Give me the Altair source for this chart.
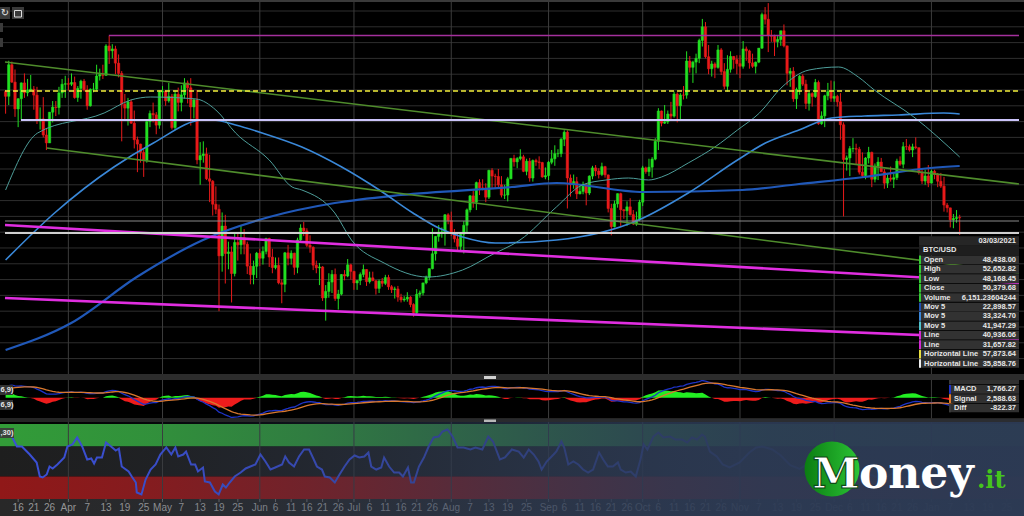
import altair as alt
import pandas as pd

W, H = 1024, 516
START = pd.Timestamp("2021-03-12")

# ---------------- BTC/USD daily candles, 12 Mar 2021 - 10 Jan 2022 ----------------
first_open = 57800

close_mar = [57200, 61200, 59000, 55600, 56900, 58900, 57650, 58000, 58100, 57350,
             54100, 54340, 52300, 51300, 55190, 55830, 55780, 57630, 58730, 58800]
high_mar = [58000, 61700, 61600, 60600, 56950, 58950, 60100, 59400, 59900, 58500,
            58400, 55800, 57100, 53200, 55200, 56600, 56600, 58400, 59400, 59800]
low_mar = [55000, 56100, 58900, 54600, 53300, 54200, 57000, 57200, 57900, 55500,
           53700, 53000, 52000, 50400, 51300, 53900, 54700, 54900, 57000, 57000]

close_apr = [58730, 58950, 57050, 58200, 59120, 58020, 56000, 58100, 58100, 59770,
             59960, 59850, 63580, 62960, 63200, 61400, 60100, 56200, 55700, 56500,
             53800, 51700, 51150, 50100, 49100, 54000, 55030, 54850, 53550, 57750]
high_apr = [59500, 60100, 59700, 58500, 59300, 59400, 58600, 58200, 58900, 61200,
            60700, 61200, 63800, 64850, 63800, 63600, 62500, 60400, 57500, 57000,
            56800, 55400, 52100, 51200, 50500, 54300, 55400, 56400, 55200, 57950]
low_apr = [57900, 58500, 56900, 56500, 56900, 57800, 55500, 55900, 57700, 57900,
           59200, 59400, 59800, 61300, 62000, 60000, 59600, 51500, 54200, 53500,
           53700, 50600, 47600, 48800, 47000, 48800, 53300, 53900, 52400, 53100]

close_may = [57830, 56630, 57200, 53240, 57470, 56430, 57380, 58900, 58280, 55860,
             56750, 49150, 49700, 49900, 46760, 46450, 43540, 42900, 37000, 40780,
             37300, 37500, 34770, 38700, 38400, 39300, 38470, 35700, 34620, 35680, 37340]
high_may = [58500, 57900, 58900, 57500, 57900, 58300, 58600, 59500, 59200, 59500,
            56900, 58000, 51400, 51500, 50700, 49800, 46600, 45800, 43500, 42500,
            42200, 38800, 38200, 39900, 39800, 40800, 40400, 38800, 37300, 36400, 37500]
low_may = [57000, 56000, 56400, 53000, 52900, 55300, 55300, 56900, 56300, 53500,
           54400, 48600, 46000, 48800, 46600, 43800, 42100, 42300, 30000, 35000,
           33500, 35300, 31100, 34400, 36400, 37200, 37200, 34700, 33400, 33400, 34200]

close_jun = [36700, 37570, 39200, 36850, 35520, 35800, 33590, 33400, 37390, 36690,
             37340, 35550, 39020, 40530, 40160, 38340, 38100, 35820, 35480, 35600,
             31680, 32500, 33680, 34660, 31600, 32160, 34640, 34450, 35870, 35040]
high_jun = [37900, 38200, 39300, 39300, 37900, 36800, 36800, 34000, 37500, 38400,
            37700, 37400, 39300, 41000, 41300, 40500, 39600, 38200, 36400, 36100,
            35700, 33300, 34800, 35200, 35400, 32700, 34700, 35200, 36600, 36000]
low_jun = [35700, 35900, 37200, 35600, 34800, 35300, 33400, 31000, 32400, 35800,
           35900, 34600, 34800, 38800, 39500, 38100, 37400, 35200, 34800, 33300,
           31300, 28800, 31700, 32300, 31300, 30200, 32000, 33900, 34300, 34000]

close_jul = [33570, 33890, 34650, 35280, 33740, 34220, 33860, 32880, 33810, 33520,
             34260, 33090, 32730, 32820, 31780, 31420, 31530, 31780, 30840, 29800,
             32140, 32310, 33580, 34290, 35380, 37270, 39460, 40020, 40020, 42200, 41460]
high_jul = [35100, 33900, 34900, 35900, 35300, 35000, 35000, 33900, 34000, 34200,
            34600, 34600, 33300, 33100, 33200, 32200, 31900, 32400, 31900, 31000,
            32800, 32600, 33600, 34500, 35400, 40500, 39500, 40900, 40600, 42300, 42400]
low_jul = [32700, 32700, 33300, 34300, 33200, 33500, 33800, 32100, 32300, 33100,
           33300, 32700, 32300, 31600, 31200, 31100, 31200, 31200, 30500, 29300,
           29500, 31700, 32000, 33400, 33900, 35300, 36400, 38800, 39300, 38300, 41000]

close_aug = [39850, 39150, 38200, 39740, 40870, 42830, 44600, 43800, 46280, 45600,
             45590, 44430, 47830, 47100, 47050, 45990, 44690, 44700, 46760, 49340,
             48900, 49320, 49540, 47700, 48990, 46850, 49070, 48900, 48810, 46990, 47160]
high_aug = [42600, 40400, 39800, 39900, 41400, 43000, 44700, 45300, 46400, 46700,
            46700, 46200, 47900, 48100, 47400, 48000, 47100, 46000, 47000, 49400,
            49800, 49500, 50500, 49800, 49300, 49400, 49200, 49300, 49600, 48900, 48200]
low_aug = [39500, 38700, 37600, 37500, 37300, 39900, 42500, 43100, 42800, 44700,
           45300, 43800, 44200, 45600, 45500, 45700, 44400, 44200, 43900, 46700,
           48300, 48100, 49100, 47600, 47200, 46400, 46400, 48400, 48000, 46900, 46700]

close_sep = [48850, 49290, 49940, 49940, 51770, 52660, 46860, 46070, 46400, 44850,
             45160, 46050, 44960, 47100, 48140, 47750, 47300, 48300, 47250, 43000,
             40700, 43580, 44880, 42840, 42710, 43210, 42230, 41040, 41560, 43800]
high_sep = [49000, 50400, 51000, 50500, 51900, 52900, 52900, 47300, 47300, 47000,
            45900, 46400, 46200, 47200, 48400, 48500, 48100, 48800, 48400, 47300,
            43600, 44000, 44900, 45000, 42900, 43900, 44300, 42800, 42600, 44100]
low_sep = [46600, 48600, 48400, 49500, 49500, 50900, 43000, 44500, 45500, 44200,
           44800, 44800, 43400, 44700, 46700, 47100, 46800, 47100, 46900, 42500,
           39600, 40600, 43100, 40800, 41700, 40800, 42100, 40900, 40800, 41400]

close_oct = [48140, 47660, 48230, 49250, 51500, 55340, 53800, 53970, 54960, 54690,
             57490, 56000, 57370, 57350, 61670, 60870, 61530, 62010, 64280, 66000,
             62210, 60690, 61300, 60860, 63080, 60330, 58470, 60620, 62250, 61860, 61340]
high_oct = [48400, 48300, 49300, 49500, 51900, 55700, 55400, 56100, 55400, 56500,
            57800, 57700, 57600, 58500, 62900, 62300, 61700, 62600, 64500, 67000,
            66600, 63700, 61700, 61500, 63700, 63300, 61400, 62400, 62900, 62300, 62400]
low_oct = [43300, 47400, 47100, 46900, 49100, 50400, 53400, 53700, 53700, 54100,
           54500, 53900, 54300, 56800, 56900, 60200, 58900, 60100, 61400, 63500,
           62000, 60000, 59700, 59500, 60700, 59900, 58100, 57800, 60200, 60700, 60000]

close_nov = [61000, 63200, 62950, 61440, 61000, 61530, 63300, 67550, 66950, 64880,
             64800, 64130, 64390, 65500, 63590, 60110, 60370, 56890, 58070, 59750,
             58740, 56300, 57550, 57170, 58960, 53730, 54720, 57270, 57800, 56950]
high_nov = [62400, 64200, 63500, 63100, 62600, 61600, 63300, 67800, 68500, 69000,
            65600, 65000, 64900, 65500, 66300, 63600, 60800, 60900, 58300, 59900,
            60000, 59300, 57800, 57700, 59400, 59200, 55300, 57400, 58900, 59200]
low_nov = [59500, 60700, 61700, 60700, 60800, 60100, 61400, 63200, 66300, 62800,
           64100, 62300, 63400, 63600, 63400, 58600, 58400, 56500, 55600, 57400,
           58500, 55600, 55400, 55900, 57000, 53600, 53600, 53300, 56700, 56500]

close_dec = [57200, 56500, 53600, 49200, 49400, 50580, 50600, 50500, 47600, 47150,
             49390, 50100, 46700, 48380, 48880, 47640, 46200, 46850, 46700, 46900,
             49000, 48600, 50830, 50820, 50400, 50800, 50700, 47540, 46470, 47120, 46210]
high_dec = [59100, 57400, 57600, 53900, 49700, 50900, 51900, 51200, 50800, 50100,
            49500, 50800, 50200, 48700, 49500, 49400, 48000, 47300, 48300, 47500,
            49300, 49600, 51400, 51800, 51100, 51200, 52000, 50700, 48100, 47900, 48500]
low_dec = [56500, 55900, 51700, 42000, 47800, 47100, 50100, 48600, 47300, 46900,
           46700, 48700, 45700, 46300, 46600, 47600, 45500, 45600, 46400, 45600,
           46600, 48400, 48100, 50400, 50200, 49500, 50500, 47300, 46100, 46000, 45700]

close_jan = [47700, 47300, 46450, 45830, 43430, 43080, 41560, 41730, 41860, 41820]
high_jan = [47900, 47900, 47500, 47500, 47000, 43700, 43100, 42300, 42800, 42200]
low_jan = [46200, 46700, 45700, 45600, 42600, 42500, 40600, 40500, 41200, 39650]

# closes from 10 Jan to 11 Mar 2021, only used to seed the MACD averages
warmup_closes = [38150, 35400, 33900, 37300, 39100, 36800, 36000, 35800, 36600, 35900,
                 35500, 30800, 33000, 32100, 32300, 32300, 32500, 30400, 33400, 34300,
                 34300, 33100,
                 33500, 35500, 37600, 36900, 38300, 39200, 38900, 46400, 46500, 44800,
                 47900, 47400, 47200, 48600, 47900, 49100, 52100, 51600, 55900, 55900,
                 57400, 54100, 48900, 49700, 47000, 46300, 46200, 45200,
                 49600, 48438, 50380, 48400, 48800, 48900, 51000, 52400, 54900, 55900, 57800]

closes = (close_mar + close_apr + close_may + close_jun + close_jul + close_aug +
          close_sep + close_oct + close_nov + close_dec + close_jan)
highs = (high_mar + high_apr + high_may + high_jun + high_jul + high_aug +
         high_sep + high_oct + high_nov + high_dec + high_jan)
lows = (low_mar + low_apr + low_may + low_jun + low_jul + low_aug +
        low_sep + low_oct + low_nov + low_dec + low_jan)

# moving averages read at sample days (day 0 = 12 Mar 2021)
ma50_pts = [(0, 45340), (10.2, 52556), (31.4, 55088), (39.9, 56734), (46.2, 57114),
            (60.7, 56861), (67, 55468), (73.3, 52556), (84, 49138), (91.3, 45720),
            (94.4, 45340), (104.9, 42428), (110.2, 39010), (120.6, 36098), (134.5, 34326),
            (145.6, 35212), (156, 37364), (161.3, 38377), (163.9, 39010), (175.5, 43188),
            (183.7, 45973), (191.3, 46606), (198.5, 46859), (204.9, 46606), (209, 46986),
            (217.5, 48758), (226, 50784), (233.2, 52936), (240.2, 55088), (247.4, 58380),
            (256, 60532), (265.4, 60912), (271.7, 59646), (276.8, 58000), (289.4, 54582),
            (304, 49518)]
ma100_pts = [(0, 36478), (15.6, 42428), (34.5, 48252), (47.1, 51290), (62.9, 54202),
             (66, 54202), (73.3, 53569), (81.8, 52556), (94.4, 50784), (107.1, 48252),
             (119.1, 45340), (129.8, 42428), (138, 40530), (145.6, 39390), (156, 38630),
             (175.5, 39010), (201.7, 41542), (217.5, 44960), (233.2, 49138), (242.1, 51290),
             (252.8, 52936), (263.2, 54455), (273.6, 54708), (284.4, 54835), (298.9, 55088),
             (304, 54962)]
ma200_pts = [(0, 25084), (20.9, 28502), (41.8, 34326), (62.9, 39010), (84, 41922),
             (104.9, 43694), (126, 44707), (161.3, 45720), (175.5, 46226), (203.3, 45087),
             (234.8, 45340), (252.8, 46100), (273.6, 46986), (294.8, 48125), (304, 48378)]

# RSI read at sample days
rsi_pts = [(0, 88.7), (2.0, 83.3), (3.6, 70), (5.2, 70), (7.7, 59.3), (9.9, 48.7), (10.9, 30),
           (11.8, 28.7), (13.1, 32.7), (14.0, 43.3), (15.0, 40.7), (16.5, 46), (18.7, 55.3),
           (19.7, 70), (21.3, 72.7), (22.8, 82), (24.4, 70), (26.0, 52.7), (27.3, 54),
           (28.2, 47.3), (29.1, 55.3), (30.7, 55.3), (32.0, 75.3), (33.6, 70), (35.1, 64.7),
           (36.1, 67.3), (37.0, 43.3), (39.2, 36.7), (40.2, 30), (41.5, 22), (41.8, 8.7),
           (43.3, 6), (44.6, 26), (46.2, 39.3), (47.8, 46), (49.3, 59.3), (51.2, 68.7),
           (52.8, 59.3), (54.1, 68.7), (55.0, 56.7), (56.6, 59.3), (57.5, 63.3), (59.1, 46),
           (60.4, 46), (61.3, 36.7), (62.9, 42), (63.5, 23.3), (65.1, 22), (66.7, 10),
           (67.9, 6), (69.2, 19.3), (70.2, 15.3), (71.4, 22), (73.0, 30), (74.9, 35.3),
           (76.5, 40.7), (78.0, 43.3), (79.6, 46), (81.2, 59.3), (82.8, 50), (84.4, 39.3),
           (85.9, 42), (88.1, 46), (89.1, 56.7), (90.3, 48.7), (91.9, 43.3), (93.5, 56.7),
           (95.1, 66), (96.7, 66), (98.2, 52.7), (99.2, 43.3), (100.8, 39.3), (101.7, 30),
           (103.3, 28.7), (104.9, 22), (106.4, 32.7), (108.0, 43.3), (109.6, 52.7),
           (111.2, 58), (112.7, 55.3), (114.3, 56.7), (115.6, 62), (116.5, 43.3),
           (118.1, 39.3), (119.7, 42), (120.6, 55.3), (122.2, 43.3), (123.8, 35.3),
           (125.4, 35.3), (126.6, 30), (128.2, 42), (129.2, 22), (130.1, 22), (131.7, 43.3),
           (133.3, 55.3), (134.8, 70), (136.4, 82), (138.0, 83.3), (139.2, 90), (140.8, 92.7),
           (142.4, 83.3), (144.0, 68.7), (145.9, 68.7), (148.1, 66), (149.7, 68.7),
           (151.9, 66), (153.8, 83.3), (155.3, 76.7), (157.5, 52.7), (159.1, 55.3),
           (161.3, 66), (163.5, 63.3), (165.1, 55.3), (166.7, 66), (168.3, 59.3),
           (169.8, 50), (170.8, 39.3), (172.4, 50), (174.6, 59.3), (175.5, 63.3),
           (177.1, 76.7), (178.0, 68.7), (179.3, 46), (180.9, 50), (182.5, 46),
           (184.0, 39.3), (185.6, 35.3), (187.2, 39.3), (189.1, 62), (190.4, 52.7),
           (191.9, 43.3), (193.5, 43.3), (195.1, 48.7), (196.0, 39.3), (197.6, 35.3),
           (199.2, 36.7), (200.8, 30), (202.3, 52.7), (203.3, 72.7), (204.5, 66),
           (206.4, 83.3), (208.0, 88.7), (209.6, 82), (211.8, 83.3), (213.4, 79.3),
           (215.6, 79.3), (217.2, 75.3), (218.7, 82), (220.3, 79.3), (221.9, 86),
           (222.8, 83.3), (224.4, 63.3), (226.6, 56.7), (228.5, 46), (230.7, 42),
           (233.9, 48.7), (237.0, 62), (239.2, 68.7), (241.1, 70), (244.3, 66),
           (247, 58), (250, 45), (253, 40), (256, 48), (259, 30), (262, 38), (266, 35),
           (268, 18), (271, 28), (274, 35), (277, 30), (280, 28), (283, 35), (286, 42),
           (289, 45), (292, 40), (295, 42), (298, 38), (301, 28), (304, 25)]

# drawn trend lines: (day0, price0, day1, price1)
channel_top = (-0.19, 61545, 322.9, 46100)
channel_bottom = (13.1, 50657, 322.9, 34832)
wedge_top = (-0.19, 40909, 322.9, 33566)
wedge_bottom = (-0.19, 31667, 322.9, 26477)
level_high = (32.9, 64900, 322.9, 64900)
level_yellow = (-0.19, 57873.64, 322.9, 57873.64)
level_lilac = (4.9, 54202, 322.9, 54202)
level_grey = (-0.19, 41415, 322.9, 41415)
level_white = (-0.19, 39896, 322.9, 39896)

grid_prices = list(range(24000, 70000, 2000))
month_starts = ["2021-04-01", "2021-05-01", "2021-06-01", "2021-07-01", "2021-08-01",
                "2021-09-01", "2021-10-01", "2021-11-01", "2021-12-01", "2022-01-01"]
tick_dates = ["2021-03-16", "2021-03-21", "2021-03-26", "2021-04-01", "2021-04-07", "2021-04-13",
              "2021-04-19", "2021-04-25", "2021-05-01", "2021-05-07", "2021-05-13", "2021-05-19",
              "2021-05-25", "2021-06-01", "2021-06-06", "2021-06-11", "2021-06-16", "2021-06-21",
              "2021-06-26", "2021-07-01", "2021-07-06", "2021-07-11", "2021-07-16", "2021-07-21",
              "2021-07-26", "2021-08-01", "2021-08-07", "2021-08-13", "2021-08-19", "2021-08-25",
              "2021-09-01", "2021-09-06", "2021-09-11", "2021-09-16", "2021-09-21", "2021-09-26",
              "2021-10-01", "2021-10-06", "2021-10-11", "2021-10-16", "2021-10-21", "2021-10-26",
              "2021-11-01", "2021-11-07", "2021-11-13", "2021-11-19", "2021-11-25", "2021-12-01",
              "2021-12-06", "2021-12-11", "2021-12-16", "2021-12-21", "2021-12-26", "2022-01-01",
              "2022-01-07", "2022-01-13", "2022-01-19", "2022-01-25"]
tick_labels = ["16", "21", "26", "Apr", "7", "13", "19", "25", "May", "7", "13", "19", "25",
               "Jun", "6", "11", "16", "21", "26", "Jul", "6", "11", "16", "21", "26",
               "Aug", "7", "13", "19", "25", "Sep", "6", "11", "16", "21", "26",
               "Oct", "6", "11", "16", "21", "26", "Nov", "7", "13", "19", "25",
               "Dec", "6", "11", "16", "21", "26", "Jan", "7", "13", "19", "25"]

# legend box contents
box_header_date = "03/03/2021"
box_header_symbol = "BTC/USD"
box_labels = ["Open", "High", "Low", "Close", "Volume", "Mov 5", "Mov 5", "Mov 5",
              "Line", "Line", "Horizontal Line", "Horizontal Line"]
box_values = ["48,438.00", "52,652.82", "48,168.45", "50,379.68", "6,151.23604244",
              "22,898.57", "33,324.70", "41,947.29", "40,936.06", "31,657.82",
              "57,873.64", "35,858.76"]
box_swatches = ["#33cc33", "#33cc33", "#33cc33", "#33cc33", "#33cc33", "#1f50b0", "#3a86d6",
                "#4fc3cc", "#d528d5", "#d528d5", "#e8e040", "#eeeeee"]
macd_labels = ["MACD", "Signal", "Diff"]
macd_values = ["1,766.27", "2,588.63", "-822.37"]
macd_swatches = ["#1e33c8", "#e07a2a", "#3a3a3a"]
macd_caption = "6,9)"
rsi_caption = ",30)"

# ---------------- tables ----------------
def day_of(d):
    return (pd.Timestamp(d) - START).days

n = len(closes)
candles = pd.DataFrame({"day": list(range(n)), "open": [first_open] + closes[:-1],
                        "high": highs, "low": lows, "close": closes})

series = pd.Series(warmup_closes + closes, dtype=float)
ema_fast = series.ewm(span=12, adjust=False).mean()
ema_slow = series.ewm(span=26, adjust=False).mean()
macd_line = ema_fast - ema_slow
signal_line = macd_line.ewm(span=9, adjust=False).mean()
k = len(warmup_closes)
macd_df = pd.DataFrame({"day": list(range(n)),
                        "macd": macd_line.iloc[k:].values,
                        "signal": signal_line.iloc[k:].values})
macd_df["diff"] = macd_df["macd"] - macd_df["signal"]
macd_df["pos"] = macd_df["diff"].clip(lower=0)
macd_df["neg"] = macd_df["diff"].clip(upper=0)
macd_df["zero"] = 0.0

def pts(p, name="v"):
    return pd.DataFrame({"day": [a for a, _ in p], name: [b for _, b in p]})

XS = alt.Scale(domain=[-0.19, 322.9], range=[0, W], nice=False, zero=False)
PS = alt.Scale(domain=[22046, 69141], range=[374, 2], nice=False, zero=False)
# MACD pane spans its own extremes; histogram drawn 1.5x taller on the same zero line
m_lo = float(min(macd_df["macd"].min(), macd_df["signal"].min()))
m_hi = float(max(macd_df["macd"].max(), macd_df["signal"].max()))
MS = alt.Scale(domain=[m_lo, m_hi], range=[417.5, 380.5], nice=False, zero=False)
HS = alt.Scale(domain=[m_lo / 1.5, m_hi / 1.5], range=[417.5, 380.5], nice=False, zero=False)
RS = alt.Scale(domain=[0, 100], range=[499, 424], nice=False, zero=False)

one = pd.DataFrame({"k": [0]})
FONT = "Liberation Sans"

def xq(f):
    return alt.X(f, type="quantitative", scale=XS, axis=None)

def box(x0, x1, y0, y1, fill, opacity=1.0):
    return alt.Chart(one).mark_rect(fill=fill, opacity=opacity).encode(
        x=alt.value(x0), x2=alt.value(x1), y=alt.value(y0), y2=alt.value(y1))

def label(x, y, text, size=8, color="#e6e6e6", align="left", weight="bold", font=FONT):
    return alt.Chart(pd.DataFrame({"t": [text]})).mark_text(
        align=align, baseline="middle", fontSize=size, font=font, fontWeight=weight,
        color=color).encode(x=alt.value(x), y=alt.value(y), text="t:N")

def segment(seg, color, width, dash=None):
    d0, p0, d1, p1 = seg
    df = pd.DataFrame({"d0": [d0], "d1": [d1], "p0": [p0], "p1": [p1]})
    kw = dict(color=color, strokeWidth=width)
    if dash:
        kw["strokeDash"] = dash
    return alt.Chart(df).mark_rule(**kw).encode(
        x=xq("d0"), x2="d1:Q", y=alt.Y("p0:Q", scale=PS, axis=None), y2="p1:Q")

def ma_line(p, color, width):
    return alt.Chart(pts(p)).mark_line(color=color, strokeWidth=width, interpolate="monotone").encode(
        x=xq("day"), y=alt.Y("v:Q", scale=PS, axis=None))

layers = []

# panel backgrounds
layers.append(box(0, W, 499, H, "#282828"))
zones = pd.DataFrame({"lo": [70, 30, 0], "hi": [100, 70, 30], "zone": ["ob", "mid", "os"]})
layers.append(alt.Chart(zones).mark_rect().encode(
    x=alt.value(0), x2=alt.value(W),
    y=alt.Y("lo:Q", scale=RS, axis=None), y2="hi:Q",
    color=alt.Color("zone:N", scale=alt.Scale(domain=["ob", "mid", "os"],
                                              range=["#329c38", "#1e1e1e", "#901818"]), legend=None)))

# grid
layers.append(alt.Chart(pd.DataFrame({"p": grid_prices})).mark_rule(color="#2e2e2e", strokeWidth=1).encode(
    x=alt.value(0), x2=alt.value(W), y=alt.Y("p:Q", scale=PS, axis=None)))
layers.append(alt.Chart(pd.DataFrame({"day": [day_of(d) for d in month_starts]})).mark_rule(
    color="#3c3c3c", strokeWidth=1).encode(x=xq("day"), y=alt.value(2), y2=alt.value(499)))

# candles
updown = alt.condition("datum.close >= datum.open", alt.value("#22e022"), alt.value("#e81a1a"))
layers.append(alt.Chart(candles).mark_rule(strokeWidth=1).encode(
    x=xq("day"), y=alt.Y("low:Q", scale=PS, axis=None), y2="high:Q", color=updown))
layers.append(alt.Chart(candles).mark_bar(size=2.4, strokeWidth=0.5).encode(
    x=xq("day"), y=alt.Y("open:Q", scale=PS, axis=None), y2="close:Q",
    color=updown, stroke=updown))

# moving averages
layers.append(ma_line(ma200_pts, "#2058b8", 2.2))
layers.append(ma_line(ma100_pts, "#3a88d8", 1.6))
layers.append(ma_line(ma50_pts, "#4e9e9a", 1.0))

# trend lines and levels
layers.append(segment(channel_top, "#4f8c2c", 1.6))
layers.append(segment(channel_bottom, "#4f8c2c", 1.6))
layers.append(segment(wedge_top, "#e02ee0", 2.6))
layers.append(segment(wedge_bottom, "#e02ee0", 2.6))
layers.append(segment(level_high, "#a4309c", 1.5))
layers.append(segment(level_yellow, "#f2ee3a", 1.6, dash=[5, 3]))
layers.append(segment(level_lilac, "#cbc4fa", 2.0))
layers.append(segment(level_grey, "#8a8a8a", 1.2))
layers.append(segment(level_white, "#cfcfcf", 2.0))

# MACD panel
layers.append(alt.Chart(macd_df).mark_area(color="#22ee22").encode(
    x=xq("day"), y=alt.Y("pos:Q", scale=HS, axis=None), y2="zero:Q"))
layers.append(alt.Chart(macd_df).mark_area(color="#ee1c1c").encode(
    x=xq("day"), y=alt.Y("neg:Q", scale=HS, axis=None), y2="zero:Q"))
layers.append(alt.Chart(macd_df).mark_line(color="#1e33c8", strokeWidth=1.3).encode(
    x=xq("day"), y=alt.Y("macd:Q", scale=MS, axis=None)))
layers.append(alt.Chart(macd_df).mark_line(color="#d8782e", strokeWidth=1.3).encode(
    x=xq("day"), y=alt.Y("signal:Q", scale=MS, axis=None)))

# RSI line
layers.append(alt.Chart(pts(rsi_pts, "rsi")).mark_line(color="#3b50d8", strokeWidth=2).encode(
    x=xq("day"), y=alt.Y("rsi:Q", scale=RS, axis=None)))

# date axis
ticks = pd.DataFrame({"day": [day_of(d) for d in tick_dates], "lab": tick_labels})
layers.append(alt.Chart(ticks).mark_rule(color="#6a6a6a").encode(
    x=xq("day"), y=alt.value(499), y2=alt.value(502)))
layers.append(alt.Chart(ticks).mark_text(fontSize=10, font=FONT, color="#9a9a9a", baseline="middle").encode(
    x=xq("day"), y=alt.value(507.5), text="lab:N"))

# dark banner fading in from the left over the lower strip
banner = alt.LinearGradient(
    gradient="linear", x1=0, x2=1, y1=0, y2=0,
    stops=[alt.GradientStop(color="rgba(44,58,84,0.0)", offset=0),
           alt.GradientStop(color="rgba(44,58,84,0.12)", offset=0.15),
           alt.GradientStop(color="rgba(44,58,84,0.32)", offset=0.3),
           alt.GradientStop(color="rgba(44,58,84,0.58)", offset=0.45),
           alt.GradientStop(color="rgba(44,58,84,0.74)", offset=0.55),
           alt.GradientStop(color="rgba(44,58,84,0.87)", offset=0.65),
           alt.GradientStop(color="rgba(44,58,84,0.95)", offset=0.75),
           alt.GradientStop(color="rgba(44,58,84,0.98)", offset=1)])
layers.append(alt.Chart(one).mark_rect(fill=banner).encode(
    x=alt.value(0), x2=alt.value(W), y=alt.value(419), y2=alt.value(H)))

# MACD legend box
macd_box = pd.DataFrame({"row": [-1, 0, 1, 2], "lab": ["", *macd_labels], "val": ["", *macd_values],
                         "sw": ["#3a3a3a", *macd_swatches]})
macd_box["y0"] = macd_box["row"] - 0.46
macd_box["y1"] = macd_box["row"] + 0.46
MB = alt.Scale(domain=[-1, 2], range=[380, 408], nice=False, zero=False)
layers.append(alt.Chart(macd_box).mark_rect(fill="#303030").encode(
    x=alt.value(949), x2=alt.value(1019), y=alt.Y("y0:Q", scale=MB, axis=None), y2="y1:Q"))
layers.append(alt.Chart(macd_box).mark_rect().encode(
    x=alt.value(949), x2=alt.value(951), y=alt.Y("y0:Q", scale=MB, axis=None), y2="y1:Q",
    fill=alt.Fill("sw:N", scale=None)))
layers.append(alt.Chart(macd_box).mark_text(align="left", baseline="middle", fontSize=7.5, font=FONT,
                                            fontWeight="bold", color="#e6e6e6").encode(
    x=alt.value(954), y=alt.Y("row:Q", scale=MB, axis=None), text="lab:N"))
layers.append(alt.Chart(macd_box).mark_text(align="right", baseline="middle", fontSize=7.5, font=FONT,
                                            fontWeight="bold", color="#e6e6e6").encode(
    x=alt.value(1016), y=alt.Y("row:Q", scale=MB, axis=None), text="val:N"))

# panel separators, top strip and their grips
layers.append(box(0, W, 0, 2, "#3a3a3a"))
layers.append(box(0, W, 374, 380, "#2c2c2c"))
layers.append(box(0, W, 418, 422, "#2c2c2c", 0.85))
layers.append(box(484, 496, 376, 379, "#d0d0d0"))
layers.append(box(484, 496, 419.5, 422, "#b8b8b8"))

# indicator captions on the left edge
layers.append(box(0, 13, 385, 395, "#333333"))
layers.append(label(0.5, 390, macd_caption, size=7.5))
layers.append(box(0, 13, 400, 410, "#333333"))
layers.append(label(0.5, 405, macd_caption, size=7.5))
layers.append(box(0, 14, 428, 438, "#3a3a3a", 0.9))
layers.append(label(0.5, 433, rsi_caption, size=7.5))

# toolbar buttons at the top-left
layers.append(box(0, 10, 7, 19, "#3a3a3a"))
layers.append(label(5, 13, "\u21bb", size=10, align="center", font="DejaVu Sans", weight="normal"))
layers.append(box(12, 24, 7, 19, "#3a3a3a"))
layers.append(alt.Chart(one).mark_rect(stroke="#dddddd", strokeWidth=1, fillOpacity=0).encode(
    x=alt.value(14.5), x2=alt.value(21.5), y=alt.value(10.5), y2=alt.value(17)))
layers.append(box(0, 3, 23, 32, "#3a3a3a"))
layers.append(box(0, 3, 38, 47, "#3a3a3a"))

# main legend box
BS = alt.Scale(domain=[-2, 11], range=[241, 363.5], nice=False, zero=False)
main_box = pd.DataFrame({"row": list(range(len(box_labels))), "lab": box_labels,
                         "val": box_values, "sw": box_swatches})
main_box["y0"] = main_box["row"] - 0.46
main_box["y1"] = main_box["row"] + 0.46
head = pd.DataFrame({"row": [-2, -1], "fill": ["#262626", "#1e1e1e"]})
head["y0"] = head["row"] - 0.5
head["y1"] = head["row"] + 0.5
layers.append(alt.Chart(head).mark_rect().encode(
    x=alt.value(919), x2=alt.value(1019), y=alt.Y("y0:Q", scale=BS, axis=None), y2="y1:Q",
    fill=alt.Fill("fill:N", scale=None)))
layers.append(alt.Chart(main_box).mark_rect(fill="#323232").encode(
    x=alt.value(919), x2=alt.value(1019), y=alt.Y("y0:Q", scale=BS, axis=None), y2="y1:Q"))
layers.append(alt.Chart(main_box).mark_rect().encode(
    x=alt.value(919), x2=alt.value(921), y=alt.Y("y0:Q", scale=BS, axis=None), y2="y1:Q",
    fill=alt.Fill("sw:N", scale=None)))
layers.append(alt.Chart(main_box).mark_text(align="left", baseline="middle", fontSize=7.5, font=FONT,
                                            fontWeight="bold", color="#e6e6e6").encode(
    x=alt.value(924), y=alt.Y("row:Q", scale=BS, axis=None), text="lab:N"))
layers.append(alt.Chart(main_box).mark_text(align="right", baseline="middle", fontSize=7.5, font=FONT,
                                            fontWeight="bold", color="#e6e6e6").encode(
    x=alt.value(1016), y=alt.Y("row:Q", scale=BS, axis=None), text="val:N"))
layers.append(label(1016, 241, box_header_date, size=7.5, align="right"))
layers.append(label(923, 250.4, box_header_symbol, size=7.5))

# Money.it mark
disc = alt.LinearGradient(gradient="linear", x1=0, x2=1, y1=0, y2=0,
                          stops=[alt.GradientStop(color="#0b7d12", offset=0),
                                 alt.GradientStop(color="#2bc435", offset=1)])
layers.append(alt.Chart(one).mark_circle(fill=disc, size=3020, opacity=1, strokeWidth=0).encode(
    x=alt.value(832), y=alt.value(469)))
layers.append(alt.Chart(pd.DataFrame({"t": ["M"]})).mark_text(
    align="center", baseline="alphabetic", font="DejaVu Serif", fontWeight="bold", fontSize=43,
    color="#ffffff", stroke="#0d4a16", strokeWidth=1.2).encode(
    x=alt.value(836), y=alt.value(488), text="t:N"))
layers.append(alt.Chart(pd.DataFrame({"t": ["oney"]})).mark_text(
    align="left", baseline="alphabetic", font="DejaVu Serif", fontWeight="bold", fontSize=44,
    color="#ffffff").encode(x=alt.value(859), y=alt.value(488), text="t:N"))
layers.append(alt.Chart(pd.DataFrame({"t": [".it"]})).mark_text(
    align="left", baseline="alphabetic", font="DejaVu Serif", fontWeight="bold", fontSize=24,
    color="#45c41c").encode(x=alt.value(977), y=alt.value(488), text="t:N"))

chart = alt.layer(*layers).resolve_scale(y="independent").properties(
    width=W, height=H, background="#000000", padding=0,
    autosize=alt.AutoSizeParams(type="none")
).configure_view(stroke=None)

chart.save("out.html", embed_options={"renderer": "svg", "actions": False})
